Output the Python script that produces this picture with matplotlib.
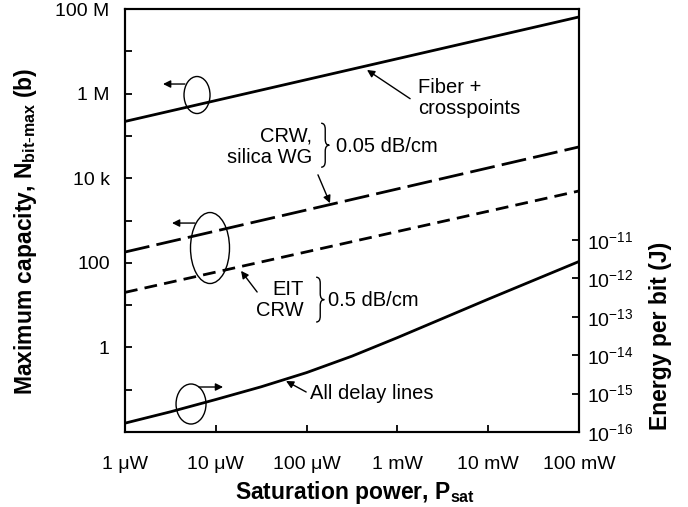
import matplotlib

matplotlib.use("Agg")

import matplotlib.pyplot as plt
from matplotlib.patches import Ellipse, PathPatch
from matplotlib.path import Path

# straight delay-line families (left axis, bits) at 1 uW and 100 mW
line_power_w = [1e-6, 1e-1]
fiber_bits = [2.2e5, 6.5e7]
crw_silica_bits = [180, 5.5e4]
eit_crw_bits = [20, 5.0e3]

# energy per bit for all delay lines (right axis)
delay_power_w = [1e-6, 3.16e-6, 1e-5, 3.16e-5, 1e-4, 3.16e-4, 1e-3, 3.16e-3,
                 1e-2, 3.16e-2, 1e-1]
energy_j = [1.70e-16, 3.35e-16, 7.0e-16, 1.50e-15, 3.51e-15, 9.4e-15,
            2.85e-14, 9.0e-14, 2.85e-13, 8.8e-13, 2.72e-12]

x_ticks = [1e-6, 1e-5, 1e-4, 1e-3, 1e-2, 1e-1]
x_labels = ["1 \u03bcW", "10 \u03bcW", "100 \u03bcW", "1 mW", "10 mW", "100 mW"]
left_ticks = [10.0 ** k for k in range(-2, 9)]
left_labels = ["", "", "1", "", "100", "", "10 k", "", "1 M", "", "100 M"]
right_ticks = [10.0 ** k for k in range(-16, -10)]
right_labels = [r"$\mathregular{10^{%d}}$" % k for k in range(-16, -10)]

plt.rcParams["font.family"] = ["Liberation Sans", "DejaVu Sans"]
plt.rcParams["axes.linewidth"] = 1.5

fig = plt.figure(figsize=(6.88, 5.07), dpi=100)
ax = fig.add_axes([0.1817, 0.1479, 0.6599, 0.8343])
ax2 = ax.twinx()

lw = 2.0
ax.plot(line_power_w, fiber_bits, color="black", lw=lw, solid_capstyle="butt")
ax.plot(line_power_w, crw_silica_bits, color="black", lw=lw, dashes=(9, 2.6))
ax.plot(line_power_w, eit_crw_bits, color="black", lw=lw, dashes=(4.6, 2.6))
ax2.plot(delay_power_w, energy_j, color="black", lw=lw, solid_joinstyle="round")

ax.set_xscale("log")
ax.set_yscale("log")
ax2.set_yscale("log")
ax.set_xlim(1e-6, 1e-1)
ax.set_ylim(1e-2, 1e8)
ax2.set_ylim(1e-16, 1e-5)

ax.set_xticks(x_ticks, x_labels)
ax.set_yticks(left_ticks, left_labels)
ax2.set_yticks(right_ticks, right_labels)
ax.minorticks_off()
ax2.minorticks_off()

ax.tick_params(axis="x", direction="in", length=5, width=1.3, labelsize=14, pad=17)
ax.tick_params(axis="y", direction="in", length=5, width=1.3, labelsize=14, pad=11)
ax2.tick_params(axis="y", direction="in", length=5, width=1.3, labelsize=14, pad=6)

label_font = dict(fontsize=16.5, fontweight="bold")
ax.set_xlabel(r"Saturation power, P$_{\mathregular{sat}}$", **label_font)
ax.xaxis.set_label_coords(0.507, -0.112)
ax.set_ylabel(r"Maximum capacity, N$_{\mathregular{bit\text{-}max}}$ (b)", **label_font)
ax.yaxis.set_label_coords(-0.19, 0.475)
ax2.set_ylabel("Energy per bit (J)", **label_font)
ax2.yaxis.set_label_coords(1.155, 0.227)

# annotations, axes-fraction coordinates
tr = ax.transAxes
note = dict(fontsize=14.5, transform=tr, color="black")
arrow = dict(arrowstyle="-|>", lw=1.0, color="black", mutation_scale=11,
             shrinkA=0, shrinkB=0)


def pointer(tail, head):
    ax.annotate("", xy=head, xycoords=tr, xytext=tail, textcoords=tr, arrowprops=arrow)


def brace(x, y_top, y_bot, w=0.018, r=0.014):
    xm = x + w / 2
    ym = (y_top + y_bot) / 2
    verts = [(x, y_top), (xm, y_top), (xm, y_top - r), (xm, ym + r),
             (xm, ym), (x + w, ym), (xm, ym), (xm, ym - r),
             (xm, y_bot + r), (xm, y_bot), (x, y_bot)]
    codes = [Path.MOVETO, Path.CURVE3, Path.CURVE3, Path.LINETO,
             Path.CURVE3, Path.CURVE3, Path.CURVE3, Path.CURVE3,
             Path.LINETO, Path.CURVE3, Path.CURVE3]
    ax.add_patch(PathPatch(Path(verts, codes), fill=False, lw=1.0,
                           edgecolor="black", transform=tr, clip_on=False))


def ring(cx, cy, w, h):
    ax.add_patch(Ellipse((cx, cy), w, h, fill=False, lw=1.0,
                         edgecolor="black", transform=tr, zorder=3))


ax.text(0.645, 0.79, "Fiber +\ncrosspoints", ha="left", va="center",
        linespacing=1.15, **note)
pointer((0.628, 0.788), (0.533, 0.856))

ax.text(0.412, 0.675, "CRW,\nsilica WG", ha="right", va="center",
        multialignment="right", linespacing=1.15, **note)
brace(0.432, 0.730, 0.626)
ax.text(0.465, 0.674, "0.05 dB/cm", ha="left", va="center", **note)
pointer((0.425, 0.608), (0.4515, 0.541))

ax.text(0.394, 0.312, "EIT\nCRW", ha="right", va="center",
        multialignment="right", linespacing=1.15, **note)
brace(0.421, 0.366, 0.260)
ax.text(0.447, 0.310, "0.5 dB/cm", ha="left", va="center", **note)
pointer((0.291, 0.331), (0.2555, 0.381))

ax.text(0.4075, 0.092, "All delay lines", ha="left", va="center", **note)
pointer((0.399, 0.0946), (0.3546, 0.1206))

ring(0.1586, 0.7967, 0.0573, 0.0875)
pointer((0.132, 0.8227), (0.0837, 0.8227))
ring(0.1872, 0.435, 0.0859, 0.1678)
pointer((0.154, 0.494), (0.1035, 0.494))
ring(0.1454, 0.0662, 0.066, 0.0946)
pointer((0.163, 0.1064), (0.216, 0.1064))

fig.savefig("out.png", dpi=100)
